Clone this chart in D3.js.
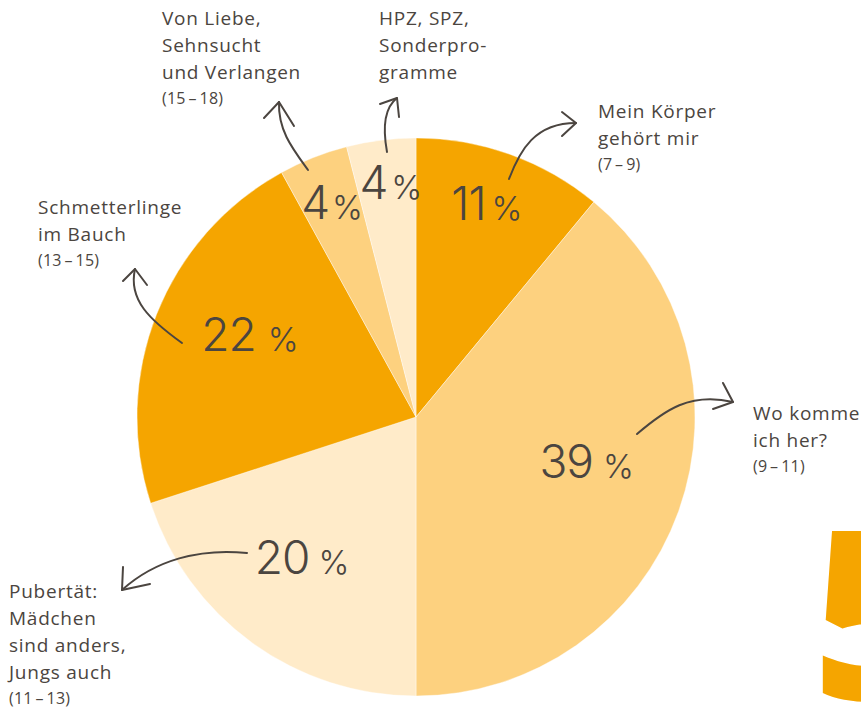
<!DOCTYPE html>
<html><head><meta charset="utf-8">
<script src="https://cdn.jsdelivr.net/npm/d3@7"></script>
<style>
html,body{margin:0;padding:0;background:#fff;overflow:hidden}
svg{display:block}
</style></head>
<body>
<svg id="chart" width="861" height="709"></svg>
<script>
// ---- data ----
const categories = ["Mein Körper gehört mir","Wo komme ich her?","Pubertät: Mädchen sind anders, Jungs auch","Schmetterlinge im Bauch","Von Liebe, Sehnsucht und Verlangen","HPZ, SPZ, Sonderprogramme"];
const values = [11, 39, 20, 22, 4, 4];
const ageRanges = ["(7\u2009\u2013\u20099)","(9\u2009\u2013\u200911)","(11\u2009\u2013\u200913)","(13\u2009\u2013\u200915)","(15\u2009\u2013\u200918)",""];
const labelLines = [
  ["Mein Körper","gehört mir"],
  ["Wo komme","ich her?"],
  ["Pubertät:","Mädchen","sind anders,","Jungs auch"],
  ["Schmetterlinge","im Bauch"],
  ["Von Liebe,","Sehnsucht","und Verlangen"],
  ["HPZ, SPZ,","Sonderpro-","gramme"]
];
const pageNumber = "5";

// ---- layout (not data) ----
const W = 861, H = 709;
const cx = 416, cy = 417, R = 279;
const sliceColors = ["#F5A500","#FDD17F","#FFEBC9","#F5A500","#FDD17F","#FFEBC9"];
const pctRadius = [0.75, 0.65, 0.695, 0.64, 0.77, 0.785];
const pctAngleNudge = [0, 0, 0, 0, -1.4, 0.6]; // degrees
const pctGap = [6, 10, 9, 12, 3, 4];
const labelPos = [[598,118],[753,420],[9,598],[38,214],[162,25],[379,25]];
const arrowPaths = [
  {d:"M509,179 C520,150 535,123 576,123", head:[[562,112],[576,123],[562,136]]},
  {d:"M637,434 C665,410 690,392 733,402", head:[[723,383],[733,402],[713,409]]},
  {d:"M247,553 C200,548 155,560 122,590", head:[[123,567],[122,590],[150,584]]},
  {d:"M182,343 C150,320 128,300 135,269", head:[[123,281],[135,269],[147,285]]},
  {d:"M308,170 C292,148 278,130 279,102", head:[[264,118],[279,102],[294,126]]},
  {d:"M387,152 C383,130 384,108 397,98", head:[[380,104],[397,98],[399,117]]}
];
const ink = "#4b4540";

const svg = d3.select("#chart");

// big page number
svg.append("text")
  .attr("x", 812).attr("y", 700)
  .attr("font-family", "'Open Sans', sans-serif")
  .attr("font-weight", 800)
  .attr("font-size", 236)
  .attr("fill", "#F5A500")
  .text(pageNumber);

const pie = d3.pie().sort(null).value(d => d)(values);
const arc = d3.arc().innerRadius(0).outerRadius(R);
const g = svg.append("g").attr("transform", `translate(${cx},${cy})`);

g.selectAll("path.slice").data(pie).join("path")
  .attr("class","slice")
  .attr("d", arc)
  .attr("fill", (d,i) => sliceColors[i])
  .attr("stroke", "#fff").attr("stroke-opacity", 0.5).attr("stroke-width", 0.8);

// percent labels
g.selectAll("text.pct").data(pie).join("text")
  .attr("class","pct")
  .attr("transform", (d,i) => {
    const r = R * pctRadius[i];
    const a = (d.startAngle + d.endAngle) / 2 + pctAngleNudge[i] * Math.PI / 180;
    const p = d3.pointRadial(a, r);
    return `translate(${p[0]},${p[1]})`;
  })
  .attr("text-anchor","middle")
  .attr("font-family","Inter, Lato, sans-serif")
  .attr("font-weight",300)
  .attr("fill", ink)
  .each(function(d,i){
    const t = d3.select(this);
    t.append("tspan").attr("font-size",46).attr("letter-spacing",-1).text(d.data);
    t.append("tspan").attr("font-size",33).attr("dx",pctGap[i]).text("%");
  });

// arrows
const ag = svg.append("g").attr("fill","none").attr("stroke",ink)
  .attr("stroke-width",2).attr("stroke-linecap","round").attr("stroke-linejoin","round");
arrowPaths.forEach(a => {
  ag.append("path").attr("d", a.d);
  ag.append("path").attr("d", d3.line()(a.head));
});

// category labels
categories.forEach((c,i) => {
  const [x,y] = labelPos[i];
  const t = svg.append("text").attr("x",x).attr("y",y)
    .attr("font-family","'Open Sans', sans-serif")
    .attr("font-size",19).attr("letter-spacing",0.75)
    .attr("fill",ink);
  labelLines[i].forEach((ln,j) => {
    t.append("tspan").attr("x",x).attr("y", y + j*27).text(ln);
  });
  if (ageRanges[i]) {
    t.append("tspan").attr("x",x).attr("y", y + (labelLines[i].length-1)*27 + 25)
      .attr("font-size",16).attr("letter-spacing",0.2).text(ageRanges[i]);
  }
});
</script>
</body></html>
